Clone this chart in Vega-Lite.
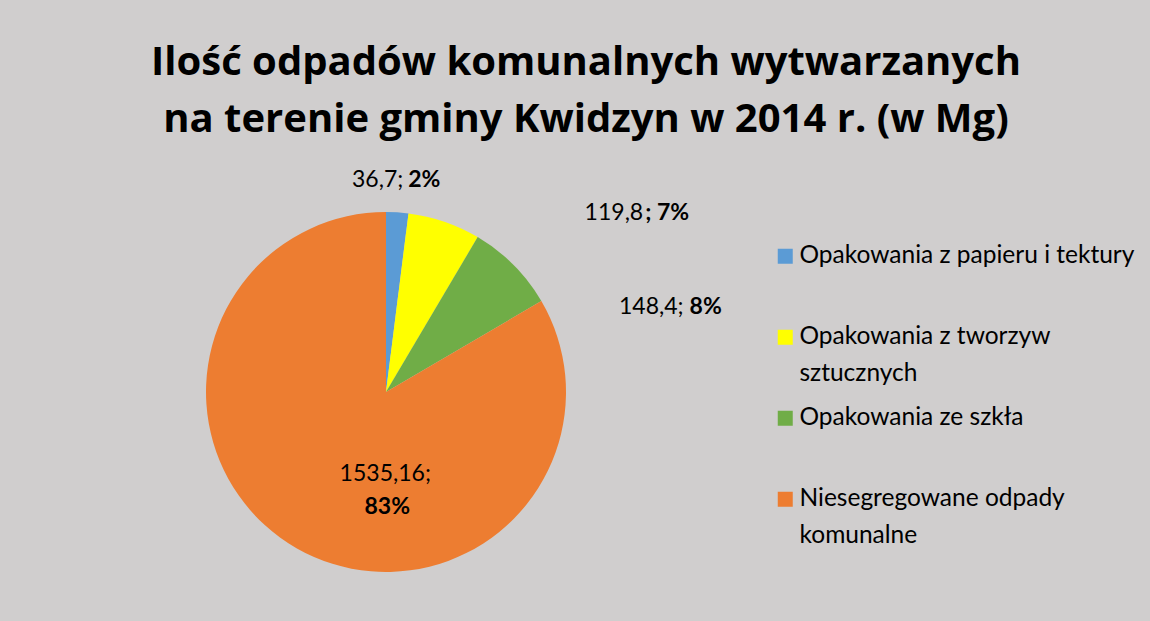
{
  "$schema": "https://vega.github.io/schema/vega-lite/v6.json",
  "width": 360,
  "height": 360,
  "autosize": {"type": "none"},
  "padding": {"left": 206, "top": 212, "right": 584, "bottom": 49},
  "background": "#d0cece",
  "config": {"view": {"stroke": null}, "font": "Lato", "style": {"guide-label": {"lineHeight": 37}}},
  "title": {
    "text": ["Ilość odpadów komunalnych wytwarzanych", "na terenie gminy Kwidzyn w 2014 r. (w Mg)"],
    "font": "Open Sans",
    "fontSize": 40,
    "fontWeight": "bold",
    "color": "#000000",
    "anchor": "middle",
    "frame": "group",
    "dx": 200,
    "offset": 29,
    "lineHeight": 57
  },
  "data": {
    "values": [
      {"nr": 1, "rodzaj": "Opakowania z papieru i tektury", "masa": 36.7, "wartosc": "36,7;", "procent": "2%"},
      {"nr": 2, "rodzaj": "Opakowania z tworzyw sztucznych", "masa": 119.8, "wartosc": "119,8", "procent": "; 7%"},
      {"nr": 3, "rodzaj": "Opakowania ze szkła", "masa": 148.4, "wartosc": "148,4;", "procent": "8%"},
      {"nr": 4, "rodzaj": "Niesegregowane odpady komunalne", "masa": 1535.16, "wartosc": "1535,16;", "procent": "83%"}
    ]
  },
  "encoding": {
    "theta": {"field": "masa", "type": "quantitative", "stack": true},
    "order": {"field": "nr", "type": "quantitative"}
  },
  "layer": [
    {
      "mark": {"type": "arc"},
      "encoding": {
        "color": {
          "field": "rodzaj",
          "type": "nominal",
          "scale": {
            "domain": ["Opakowania z papieru i tektury", "Opakowania z tworzyw sztucznych", "Opakowania ze szkła", "Niesegregowane odpady komunalne"],
            "range": ["#5b9bd5", "#ffff00", "#70ad47", "#ed7d31"]
          },
          "legend": {
            "title": null,
            "orient": "none",
            "legendX": 567,
            "legendY": 32,
            "symbolType": "square",
            "symbolSize": 225,
            "symbolStrokeWidth": 0,
            "labelFont": "Lato",
            "labelFontSize": 24.5,
            "labelColor": "#000000",
            "labelOffset": 2,
            "labelLimit": 420,
            "gridAlign": "all",
            "rowPadding": 19,
            "labelExpr": "datum.label == 'Opakowania z tworzyw sztucznych' ? ['Opakowania z tworzyw', 'sztucznych'] : datum.label == 'Niesegregowane odpady komunalne' ? ['Niesegregowane odpady', 'komunalne'] : datum.label"
          }
        }
      }
    },
    {
      "mark": {"type": "text", "radius": 212, "align": "right", "baseline": "middle", "fontSize": 23, "dx": 4, "color": "#000000"},
      "encoding": {"text": {"condition": {"test": "datum.nr == 1", "field": "wartosc"}, "value": ""}}
    },
    {
      "mark": {"type": "text", "radius": 212, "align": "left", "baseline": "middle", "fontSize": 23, "fontWeight": "bold", "dx": 9, "color": "#000000"},
      "encoding": {"text": {"condition": {"test": "datum.nr == 1", "field": "procent"}, "value": ""}}
    },
    {
      "mark": {"type": "text", "radius": 189, "align": "right", "baseline": "middle", "fontSize": 23, "dx": 196, "color": "#000000"},
      "encoding": {"text": {"condition": {"test": "datum.nr == 2", "field": "wartosc"}, "value": ""}}
    },
    {
      "mark": {"type": "text", "radius": 189, "align": "left", "baseline": "middle", "fontSize": 23, "fontWeight": "bold", "dx": 198, "color": "#000000"},
      "encoding": {"text": {"condition": {"test": "datum.nr == 2", "field": "procent"}, "value": ""}}
    },
    {
      "mark": {"type": "text", "radius": 180, "align": "right", "baseline": "middle", "fontSize": 23, "dx": 170, "dy": 42, "color": "#000000"},
      "encoding": {"text": {"condition": {"test": "datum.nr == 3", "field": "wartosc"}, "value": ""}}
    },
    {
      "mark": {"type": "text", "radius": 180, "align": "left", "baseline": "middle", "fontSize": 23, "fontWeight": "bold", "dx": 176, "dy": 42, "color": "#000000"},
      "encoding": {"text": {"condition": {"test": "datum.nr == 3", "field": "procent"}, "value": ""}}
    },
    {
      "mark": {"type": "text", "radius": 100, "align": "center", "baseline": "middle", "fontSize": 23, "dx": 49, "dy": -5, "color": "#000000"},
      "encoding": {"text": {"condition": {"test": "datum.nr == 4", "field": "wartosc"}, "value": ""}}
    },
    {
      "mark": {"type": "text", "radius": 100, "align": "center", "baseline": "middle", "fontSize": 23, "fontWeight": "bold", "dx": 51, "dy": 28, "color": "#000000"},
      "encoding": {"text": {"condition": {"test": "datum.nr == 4", "field": "procent"}, "value": ""}}
    }
  ]
}
